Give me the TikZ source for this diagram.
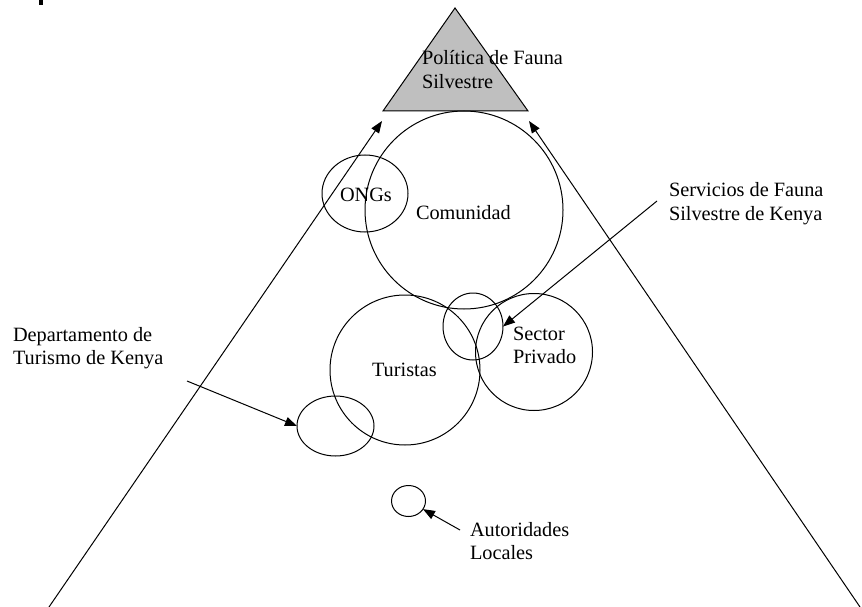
\documentclass[tikz,border=0pt]{standalone}
\usepackage{fontspec}
\setmainfont{Liberation Serif}
\usetikzlibrary{shapes.geometric,arrows.meta}
\tikzset{
  txt/.style={anchor=base west, inner sep=0pt, outer sep=0pt, font=\fontsize{20.3}{23.3}\selectfont},
  ring/.style={draw, circle, line width=1pt, inner sep=0pt, outer sep=0pt},
  oval/.style={draw, ellipse, line width=1pt, inner sep=0pt, outer sep=0pt},
  arr/.style={line width=1pt, -{Triangle[length=12pt,width=9pt]}},
  ln/.style={line width=1pt}
}
\newcommand{\twol}[2]{\begin{tabular}[t]{@{}l@{}}#1\\#2\end{tabular}}
\begin{document}
\begin{tikzpicture}[x=1pt,y=-1pt]
\useasboundingbox (0,0) rectangle (862,607);
\fill (39,0) rectangle (42.5,5);
% policy triangle
\coordinate (tA) at (455,8);
\coordinate (tL) at (383,111);
\coordinate (tR) at (528,111);
\filldraw[ln, fill=black!25] (tA) -- (tL) -- (tR) -- cycle;
% circles
\node[ring, minimum size=198pt] (com) at (464,210) {};
\node[oval, minimum width=86pt, minimum height=77pt] (ngo) at (365,193.5) {};
\node[ring, minimum size=150pt] (tur) at (405,370) {};
\node[ring, minimum size=117pt] (sec) at (534,352) {};
\node[oval, minimum width=60pt, minimum height=67pt] (svc) at (473,326.5) {};
\node[oval, minimum width=77pt, minimum height=60pt] (dep) at (335.5,426) {};
\node[oval, minimum width=34pt, minimum height=31pt] (aut) at (408.5,501) {};
% texts
\node[txt] (pol) at (422,65) {\twol{Política de Fauna}{Silvestre}};
\node[txt] (comt) at (416,219) {Comunidad};
\node[txt] (ngot) at (340,201.5) {ONGs};
\node[txt] (turt) at (372,376.5) {Turistas};
\node[txt] (sect) at (513,340.5) {\twol{Sector}{Privado}};
\node[txt] (svct) at (669,196.7) {\twol{Servicios de Fauna}{Silvestre de Kenya}};
\node[txt] (dept) at (13,341.5) {\twol{Departamento de}{Turismo de Kenya}};
\node[txt] (autt) at (470,536.5) {\twol{Autoridades}{Locales}};
% big lines
\coordinate (lb) at (49,607);
\coordinate (lt) at (382,121);
\coordinate (rb) at (860,607);
\coordinate (rt) at (529,121);
\draw[arr] (lb) -- (lt);
\draw[arr] (rb) -- (rt);
% pointer arrows
\coordinate (svcs) at (657,201);
\coordinate (deps) at (187,381);
\coordinate (auts) at (460,530);
\draw[arr] (svcs) -- (svc.east);
\draw[arr] (deps) -- (dep.west);
\draw[arr] (auts) -- (aut);
\end{tikzpicture}
\end{document}
